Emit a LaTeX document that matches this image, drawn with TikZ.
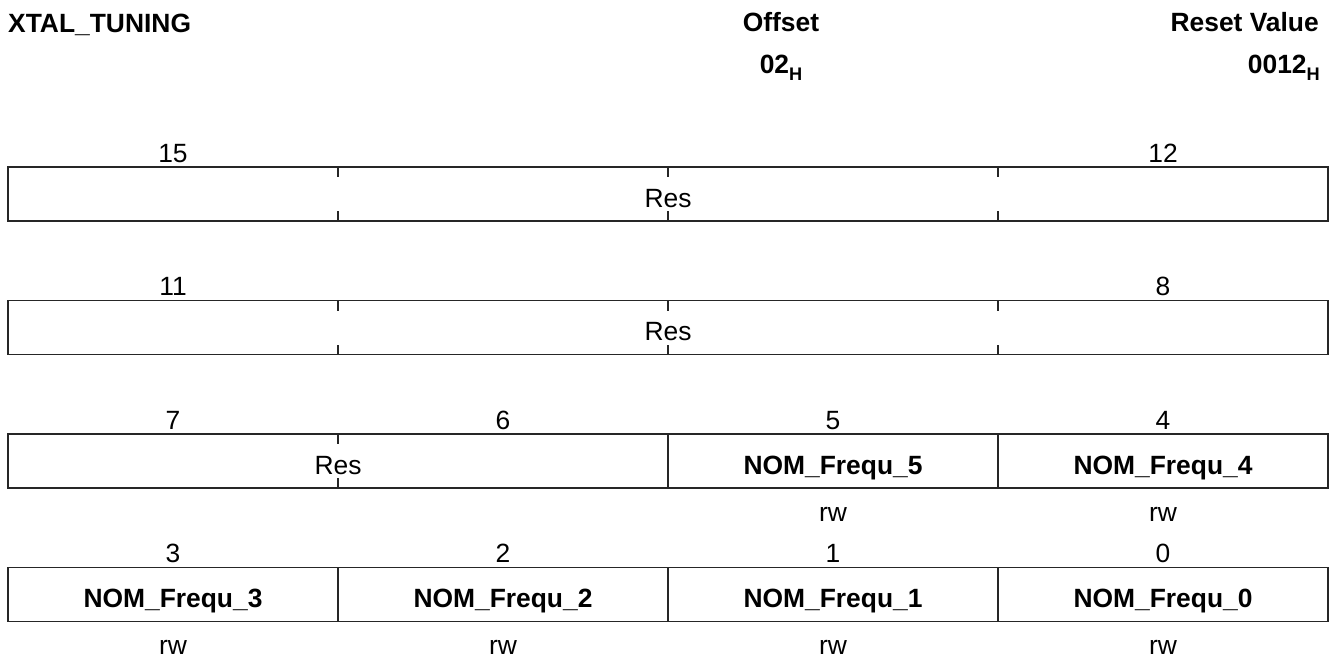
\documentclass[tikz,border=0pt]{standalone}
\usepackage{fontspec}
\setmainfont{Liberation Sans}
\begin{document}
\begin{tikzpicture}[x=1pt,y=-1pt]
\tikzset{
  txt/.style={font=\fontsize{26.4}{30}\selectfont, inner sep=0pt, anchor=base},
  bld/.style={font=\fontsize{26.4}{30}\selectfont\bfseries, inner sep=0pt, anchor=base},
  regline/.style={draw=black!85, line width=1.3pt},
  tickline/.style={draw=black!85, line width=1.1pt},
}
\newcommand{\subH}{\raisebox{-7pt}{\fontsize{18.2}{20}\selectfont H}}
\useasboundingbox (0,0) rectangle (1333,659);

% header
\node[bld, anchor=base west] (title) at (8,32) {XTAL\_TUNING};
\node[bld] (offl) at (781,31) {Offset};
\node[bld] (offv) at (781,73) {02\subH};
\node[bld, anchor=base east] (resl) at (1319,31) {Reset Value};
\node[bld, anchor=base east] (resv) at (1320,73) {0012\subH};

% row 1 (bits 15..12)
\draw[regline] (8,167) rectangle (1328,221);
\foreach \x in {338,668,998}{
  \draw[tickline] (\x,167) -- (\x,177);
  \draw[tickline] (\x,221) -- (\x,211);
}
\node[txt] (b15) at (173,162) {15};
\node[txt] (b12) at (1163,162) {12};
\node[txt] (res1) at (668,207) {Res};

% row 2 (bits 11..8)
\draw[regline] (8,300.5) rectangle (1328,354.5);
\foreach \x in {338,668,998}{
  \draw[tickline] (\x,300.5) -- (\x,310.5);
  \draw[tickline] (\x,354.5) -- (\x,344.5);
}
\node[txt] (b11) at (173,295.5) {11};
\node[txt] (b8) at (1163,295.5) {8};
\node[txt] (res2) at (668,340.5) {Res};

% row 3 (bits 7..4)
\draw[regline] (8,434) rectangle (1328,488);
\draw[regline] (668,434) -- (668,488);
\draw[regline] (998,434) -- (998,488);
\draw[tickline] (338,434) -- (338,444);
\draw[tickline] (338,488) -- (338,478);
\node[txt] (b7) at (173,429) {7};
\node[txt] (b6) at (503,429) {6};
\node[txt] (b5) at (833,429) {5};
\node[txt] (b4) at (1163,429) {4};
\node[txt] (res3) at (338,474) {Res};
\node[bld] (f5) at (833,474) {NOM\_Frequ\_5};
\node[bld] (f4) at (1163,474) {NOM\_Frequ\_4};
\node[txt] (a5) at (833,521) {rw};
\node[txt] (a4) at (1163,521) {rw};

% row 4 (bits 3..0)
\draw[regline] (8,567.5) rectangle (1328,621.5);
\foreach \x in {338,668,998}{
  \draw[regline] (\x,567.5) -- (\x,621.5);
}
\node[txt] (b3) at (173,562.5) {3};
\node[txt] (b2) at (503,562.5) {2};
\node[txt] (b1) at (833,562.5) {1};
\node[txt] (b0) at (1163,562.5) {0};
\node[bld] (f3) at (173,607.5) {NOM\_Frequ\_3};
\node[bld] (f2) at (503,607.5) {NOM\_Frequ\_2};
\node[bld] (f1) at (833,607.5) {NOM\_Frequ\_1};
\node[bld] (f0) at (1163,607.5) {NOM\_Frequ\_0};
\node[txt] (a3) at (173,654.5) {rw};
\node[txt] (a2) at (503,654.5) {rw};
\node[txt] (a1) at (833,654.5) {rw};
\node[txt] (a0) at (1163,654.5) {rw};
\end{tikzpicture}
\end{document}
